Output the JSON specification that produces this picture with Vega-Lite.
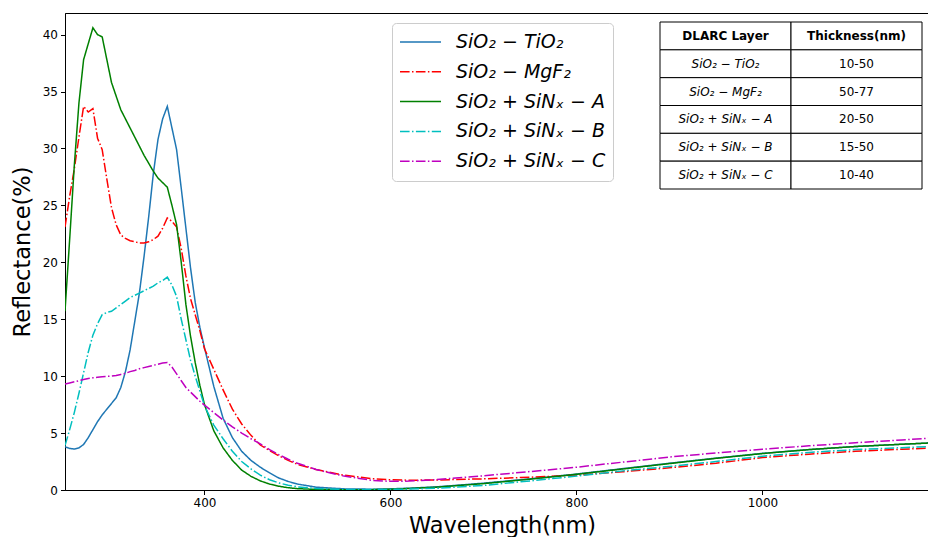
{
  "$schema": "https://vega.github.io/schema/vega-lite/v6.json",
  "width": 863,
  "height": 477,
  "autosize": {"type": "none"},
  "padding": {"left": 65, "top": 13, "right": 0, "bottom": 47},
  "background": "white",
  "config": {
    "view": {"stroke": "#000", "strokeWidth": 1},
    "font": "DejaVu Sans",
    "axis": {
      "domainColor": "#000", "tickColor": "#000", "labelColor": "#000", "titleColor": "#000",
      "labelFont": "DejaVu Sans", "labelFontSize": 12, "titleFont": "DejaVu Sans", "titleFontSize": 22.5,
      "titleFontWeight": "normal", "tickSize": 4.5, "labelPadding": 3, "grid": false,
      "domainWidth": 1, "tickWidth": 1
    }
  },
  "datasets": {
    "spectra": [
      {"wl":250,"TiO2":3.8,"MgF2":23.1,"A":15.7,"B":3.9,"C":9.3},
      {"wl":255,"TiO2":3.65,"MgF2":25.8,"A":22.0,"B":5.3,"C":9.4},
      {"wl":260,"TiO2":3.6,"MgF2":28.2,"A":28.5,"B":6.8,"C":9.5},
      {"wl":265,"TiO2":3.7,"MgF2":31.0,"A":34.0,"B":8.5,"C":9.6},
      {"wl":270,"TiO2":4.0,"MgF2":33.7,"A":37.8,"B":10.3,"C":9.7},
      {"wl":275,"TiO2":4.6,"MgF2":33.2,"A":39.2,"B":12.1,"C":9.8},
      {"wl":280,"TiO2":5.3,"MgF2":33.5,"A":40.6,"B":13.6,"C":9.85},
      {"wl":285,"TiO2":6.0,"MgF2":30.9,"A":40.0,"B":14.6,"C":9.9},
      {"wl":290,"TiO2":6.6,"MgF2":29.9,"A":39.8,"B":15.4,"C":9.95},
      {"wl":295,"TiO2":7.1,"MgF2":27.3,"A":37.8,"B":15.6,"C":9.98},
      {"wl":300,"TiO2":7.6,"MgF2":24.8,"A":35.8,"B":15.7,"C":10.0},
      {"wl":305,"TiO2":8.1,"MgF2":23.3,"A":34.6,"B":16.0,"C":10.05},
      {"wl":310,"TiO2":9.0,"MgF2":22.4,"A":33.4,"B":16.3,"C":10.15},
      {"wl":315,"TiO2":10.4,"MgF2":22.1,"A":32.6,"B":16.6,"C":10.25},
      {"wl":320,"TiO2":12.3,"MgF2":21.9,"A":31.8,"B":16.9,"C":10.4},
      {"wl":325,"TiO2":14.8,"MgF2":21.8,"A":31.0,"B":17.1,"C":10.5},
      {"wl":330,"TiO2":17.3,"MgF2":21.7,"A":30.2,"B":17.3,"C":10.65},
      {"wl":335,"TiO2":20.5,"MgF2":21.7,"A":29.4,"B":17.5,"C":10.75},
      {"wl":340,"TiO2":24.0,"MgF2":21.8,"A":28.7,"B":17.7,"C":10.85},
      {"wl":345,"TiO2":27.8,"MgF2":22.0,"A":28.0,"B":17.9,"C":10.95},
      {"wl":350,"TiO2":30.8,"MgF2":22.3,"A":27.4,"B":18.2,"C":11.05},
      {"wl":355,"TiO2":32.6,"MgF2":23.0,"A":27.0,"B":18.4,"C":11.15},
      {"wl":360,"TiO2":33.7,"MgF2":23.9,"A":26.6,"B":18.7,"C":11.2},
      {"wl":365,"TiO2":31.8,"MgF2":23.6,"A":25.0,"B":18.0,"C":10.8},
      {"wl":370,"TiO2":29.9,"MgF2":23.1,"A":23.3,"B":17.0,"C":10.2},
      {"wl":375,"TiO2":26.5,"MgF2":21.2,"A":20.0,"B":15.0,"C":9.6},
      {"wl":380,"TiO2":23.0,"MgF2":18.8,"A":16.3,"B":13.2,"C":9.0},
      {"wl":385,"TiO2":19.5,"MgF2":16.8,"A":13.5,"B":11.4,"C":8.6},
      {"wl":390,"TiO2":16.5,"MgF2":15.4,"A":11.2,"B":10.0,"C":8.2},
      {"wl":395,"TiO2":14.3,"MgF2":14.0,"A":9.2,"B":8.7,"C":7.8},
      {"wl":400,"TiO2":12.5,"MgF2":12.4,"A":7.5,"B":7.4,"C":7.45},
      {"wl":410,"TiO2":9.1,"MgF2":10.6,"A":5.2,"B":5.7,"C":6.8},
      {"wl":420,"TiO2":6.3,"MgF2":8.8,"A":3.7,"B":4.5,"C":6.15},
      {"wl":430,"TiO2":4.6,"MgF2":7.1,"A":2.6,"B":3.4,"C":5.55},
      {"wl":440,"TiO2":3.4,"MgF2":5.8,"A":1.75,"B":2.5,"C":5.0},
      {"wl":450,"TiO2":2.6,"MgF2":4.8,"A":1.2,"B":1.85,"C":4.5},
      {"wl":460,"TiO2":2.0,"MgF2":3.95,"A":0.8,"B":1.3,"C":4.05},
      {"wl":470,"TiO2":1.5,"MgF2":3.45,"A":0.52,"B":0.9,"C":3.55},
      {"wl":480,"TiO2":1.05,"MgF2":3.0,"A":0.33,"B":0.62,"C":3.1},
      {"wl":490,"TiO2":0.75,"MgF2":2.6,"A":0.2,"B":0.42,"C":2.7},
      {"wl":500,"TiO2":0.52,"MgF2":2.25,"A":0.12,"B":0.28,"C":2.35},
      {"wl":520,"TiO2":0.25,"MgF2":1.8,"A":0.05,"B":0.13,"C":1.8},
      {"wl":550,"TiO2":0.1,"MgF2":1.3,"A":0.02,"B":0.05,"C":1.22},
      {"wl":580,"TiO2":0.07,"MgF2":1.0,"A":0.03,"B":0.04,"C":0.85},
      {"wl":600,"TiO2":0.1,"MgF2":0.9,"A":0.07,"B":0.05,"C":0.76},
      {"wl":620,"TiO2":0.16,"MgF2":0.86,"A":0.13,"B":0.08,"C":0.78},
      {"wl":650,"TiO2":0.28,"MgF2":0.88,"A":0.25,"B":0.15,"C":0.92},
      {"wl":700,"TiO2":0.6,"MgF2":0.98,"A":0.56,"B":0.4,"C":1.25},
      {"wl":750,"TiO2":0.98,"MgF2":1.12,"A":0.95,"B":0.8,"C":1.62},
      {"wl":800,"TiO2":1.4,"MgF2":1.3,"A":1.38,"B":1.22,"C":2.0},
      {"wl":850,"TiO2":1.88,"MgF2":1.6,"A":1.85,"B":1.68,"C":2.45},
      {"wl":900,"TiO2":2.35,"MgF2":1.95,"A":2.32,"B":2.07,"C":2.9},
      {"wl":950,"TiO2":2.8,"MgF2":2.35,"A":2.78,"B":2.5,"C":3.25},
      {"wl":1000,"TiO2":3.22,"MgF2":2.85,"A":3.2,"B":2.97,"C":3.58},
      {"wl":1050,"TiO2":3.55,"MgF2":3.15,"A":3.55,"B":3.3,"C":3.88},
      {"wl":1100,"TiO2":3.82,"MgF2":3.4,"A":3.82,"B":3.55,"C":4.15},
      {"wl":1150,"TiO2":4.02,"MgF2":3.58,"A":4.02,"B":3.72,"C":4.4},
      {"wl":1180,"TiO2":4.13,"MgF2":3.67,"A":4.13,"B":3.82,"C":4.55}
    ],
    "table": [
      {"row":0,"col":"DLARC Layer","text":"DLARC Layer","kind":"header"},
      {"row":0,"col":"Thickness(nm)","text":"Thickness(nm)","kind":"header"},
      {"row":1,"col":"DLARC Layer","text":"SiO₂ − TiO₂","kind":"layer"},
      {"row":1,"col":"Thickness(nm)","text":"10-50","kind":"value"},
      {"row":2,"col":"DLARC Layer","text":"SiO₂ − MgF₂","kind":"layer"},
      {"row":2,"col":"Thickness(nm)","text":"50-77","kind":"value"},
      {"row":3,"col":"DLARC Layer","text":"SiO₂ + SiNₓ − A","kind":"layer"},
      {"row":3,"col":"Thickness(nm)","text":"20-50","kind":"value"},
      {"row":4,"col":"DLARC Layer","text":"SiO₂ + SiNₓ − B","kind":"layer"},
      {"row":4,"col":"Thickness(nm)","text":"15-50","kind":"value"},
      {"row":5,"col":"DLARC Layer","text":"SiO₂ + SiNₓ − C","kind":"layer"},
      {"row":5,"col":"Thickness(nm)","text":"10-40","kind":"value"}
    ]
  },
  "layer": [
    {
      "data": {"name": "spectra"},
      "transform": [{"fold": ["TiO2", "MgF2", "A", "B", "C"], "as": ["series", "r"]}],
      "mark": {"type": "line", "strokeWidth": 1.5, "clip": true},
      "encoding": {
        "x": {
          "field": "wl", "type": "quantitative",
          "scale": {"domain": [250, 1178], "nice": false, "zero": false},
          "axis": {"values": [400, 600, 800, 1000], "format": "d", "title": "Wavelength(nm)", "titleX": 437, "titlePadding": 6}
        },
        "y": {
          "field": "r", "type": "quantitative",
          "scale": {"domain": [0, 41.9], "nice": false},
          "axis": {"values": [0, 5, 10, 15, 20, 25, 30, 35, 40], "title": "Reflectance(%)", "titlePadding": 8}
        },
        "color": {
          "field": "series", "type": "nominal",
          "scale": {"domain": ["TiO2", "MgF2", "A", "B", "C"], "range": ["#1f77b4", "#ff0000", "#008000", "#00bfbf", "#bf00bf"]},
          "legend": {
            "orient": "none", "legendX": 327, "legendY": 10, "title": null,
            "symbolType": "stroke", "symbolSize": 1681, "symbolStrokeWidth": 1.5,
            "labelFont": "DejaVu Sans", "labelFontSize": 19, "labelFontStyle": "italic", "labelColor": "#000",
            "labelOffset": 14, "clipHeight": 24, "rowPadding": 5.8, "padding": 7,
            "strokeColor": "#cccccc", "fillColor": "#ffffff", "cornerRadius": 4,
            "labelExpr": "datum.label == 'TiO2' ? 'SiO₂ − TiO₂' : datum.label == 'MgF2' ? 'SiO₂ − MgF₂' : 'SiO₂ + SiNₓ − ' + datum.label"
          }
        },
        "strokeDash": {
          "field": "series", "type": "nominal",
          "scale": {"domain": ["TiO2", "MgF2", "A", "B", "C"], "range": [[1, 0], [9.6, 2.4, 1.5, 2.4], [1, 0], [9.6, 2.4, 1.5, 2.4], [9.6, 2.4, 1.5, 2.4]]},
          "legend": {
            "orient": "none", "legendX": 327, "legendY": 10, "title": null,
            "symbolType": "stroke", "symbolSize": 1681, "symbolStrokeWidth": 1.5,
            "labelFont": "DejaVu Sans", "labelFontSize": 19, "labelFontStyle": "italic", "labelColor": "#000",
            "labelOffset": 14, "clipHeight": 24, "rowPadding": 5.8, "padding": 7,
            "strokeColor": "#cccccc", "fillColor": "#ffffff", "cornerRadius": 4,
            "labelExpr": "datum.label == 'TiO2' ? 'SiO₂ − TiO₂' : datum.label == 'MgF2' ? 'SiO₂ − MgF₂' : 'SiO₂ + SiNₓ − ' + datum.label"
          }
        }
      }
    },
    {
      "data": {"name": "table"},
      "encoding": {
        "x": {"field": "col", "type": "nominal", "scale": {"domain": ["DLARC Layer", "Thickness(nm)"], "range": [595, 857], "paddingInner": 0, "paddingOuter": 0}, "axis": null},
        "y": {"field": "row", "type": "ordinal", "scale": {"domain": [0, 1, 2, 3, 4, 5], "range": [9, 176], "paddingInner": 0, "paddingOuter": 0}, "axis": null}
      },
      "layer": [
        {"mark": {"type": "rect", "fill": "#ffffff", "stroke": "#000000", "strokeWidth": 1}},
        {"transform": [{"filter": "datum.kind == 'header'"}], "mark": {"type": "text", "font": "DejaVu Sans", "fontSize": 12, "fontWeight": "bold", "color": "#000"}, "encoding": {"text": {"field": "text"}}},
        {"transform": [{"filter": "datum.kind == 'layer'"}], "mark": {"type": "text", "font": "DejaVu Sans", "fontSize": 12, "fontStyle": "italic", "color": "#000"}, "encoding": {"text": {"field": "text"}}},
        {"transform": [{"filter": "datum.kind == 'value'"}], "mark": {"type": "text", "font": "DejaVu Sans", "fontSize": 12, "color": "#000"}, "encoding": {"text": {"field": "text"}}}
      ]
    }
  ],
  "resolve": {"scale": {"x": "independent", "y": "independent"}}
}
